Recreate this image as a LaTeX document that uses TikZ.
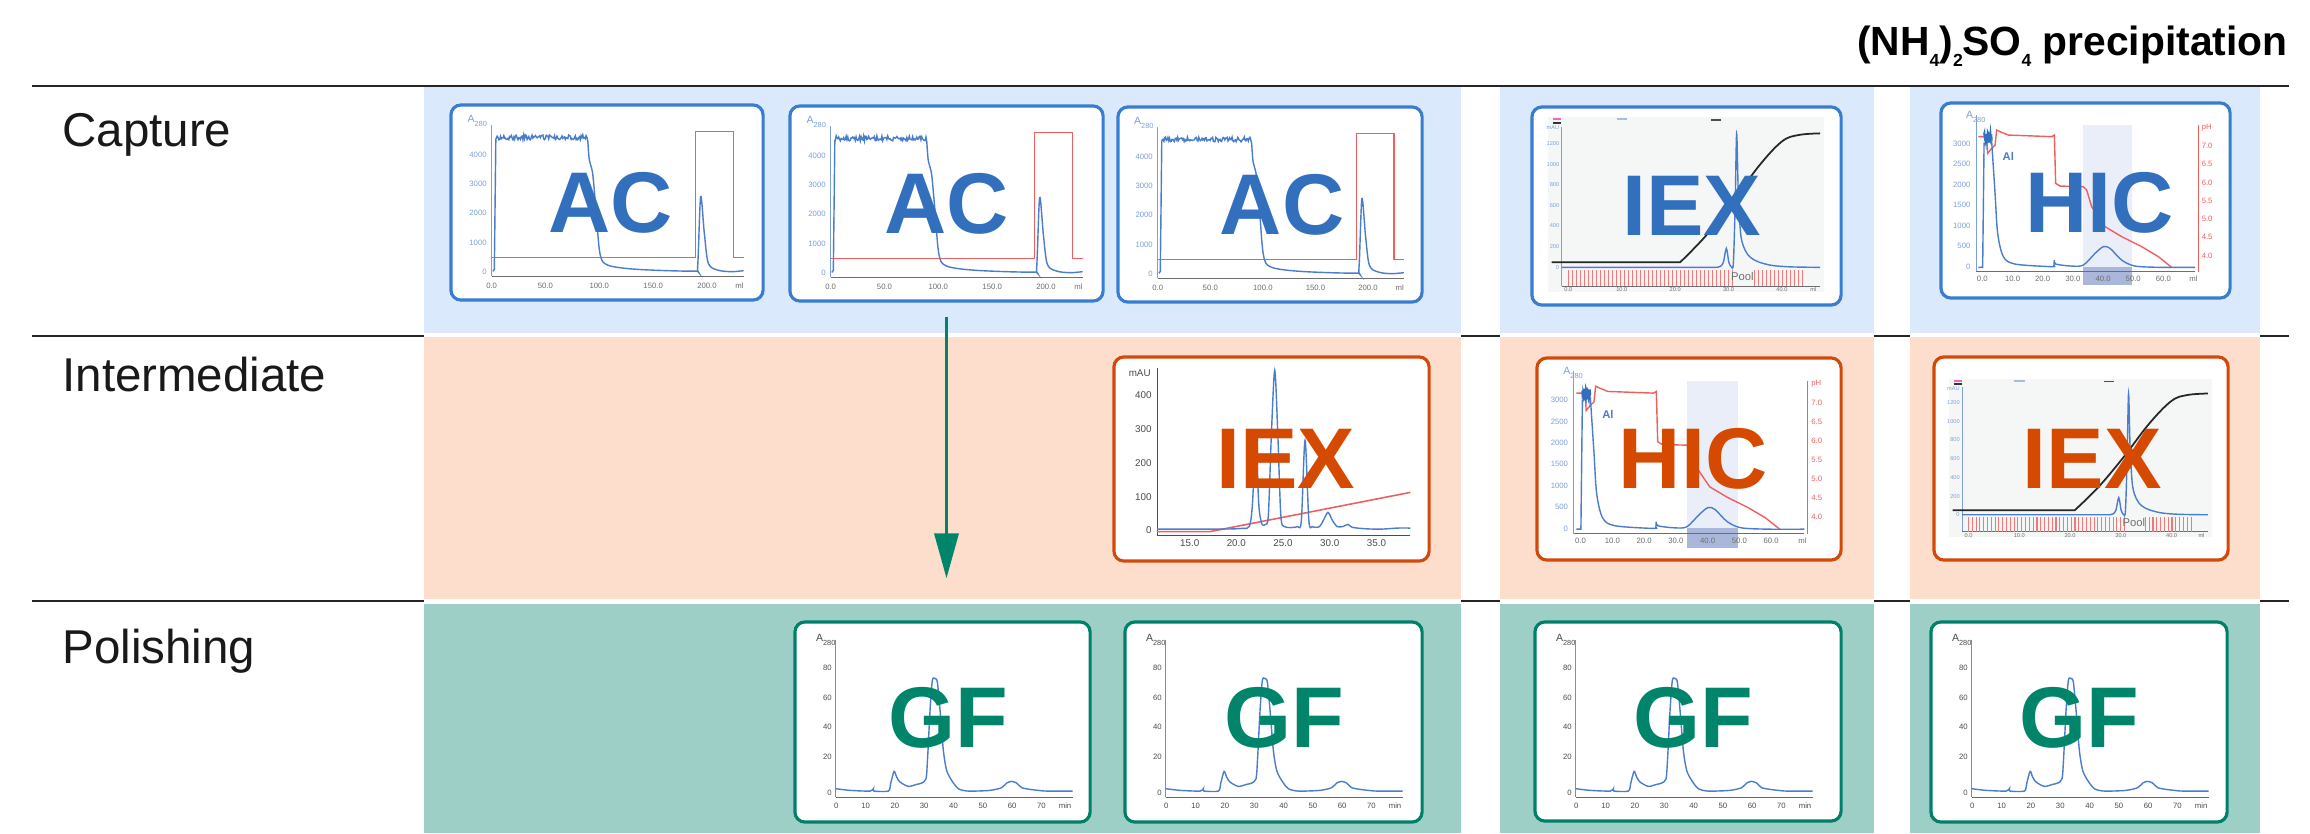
\documentclass[tikz,border=0pt]{standalone}
\usepackage{fontspec}
\setmainfont{Liberation Sans}
\usepackage{tikz}
\usetikzlibrary{arrows.meta, positioning, calc}

\definecolor{capblue}{RGB}{218,234,252}
\definecolor{intpeach}{RGB}{253,222,205}
\definecolor{polteal}{RGB}{157,207,198}
\definecolor{acedge}{RGB}{55,125,210}
\definecolor{acblue}{RGB}{50,112,190}
\definecolor{iexedge}{RGB}{210,74,10}
\definecolor{iexorange}{RGB}{213,74,0}
\definecolor{gfedge}{RGB}{0,128,104}
\definecolor{gfgreen}{RGB}{0,133,106}
\definecolor{trace}{RGB}{75,125,205}
\definecolor{tracelbl}{RGB}{125,160,215}
\definecolor{salt}{RGB}{240,95,95}
\definecolor{axisgray}{RGB}{110,110,110}
\definecolor{panelgray}{RGB}{245,247,247}
\definecolor{poolband}{RGB}{234,238,248}
\definecolor{poolbar}{RGB}{170,183,218}

\newcommand{\subs}[1]{\raisebox{-3.3pt}{\fontsize{5}{6}\selectfont #1}}

% affinity run, card coordinates in px
\newcommand{\acplot}[1]{%
  \draw[ax, tracelbl] (42.3,21.7) -- (42.3,172.7);
  \draw[ax, axisgray] (42.3,172.7) -- (294.3,172.7);
  \node[tick, text=tracelbl, anchor=base west, font=\fontsize{3}{3.5}\selectfont] (#1-a) at (17.5,19.5) {A\textsubscript{280}};
  \foreach \v/\lbl in {0/0,1/1000,2/2000,3/3000,4/4000}
    \node[tick, text=tracelbl, anchor=east] (#1-y\v) at (38,{168.3-29.33*\v}) {\lbl};
  \foreach \m/\lbl in {0/0.0,50/50.0,100/100.0,150/150.0,200/200.0}
    \node[tick, text=axisgray] (#1-x\m) at ({42.3+1.0767*\m},182.3) {\lbl};
  \node[tick, text=axisgray] (#1-ml) at (290,182.3) {ml};
  \draw[salt, line width=0.4pt] (42.3,154) -- (246,154) -- (246,28.3) -- (284.3,28.3) -- (284.3,154) -- (294.3,154);
  \draw[trc] (43.5,168) -- (45,166) -- (46.5,36) -- plot[domain=47:137.6, samples=110] (\x,{34+2.5*rand})
    -- plot[smooth, tension=0.5] coordinates {(138.5,38) (140,56.7) (143.3,70) (146.7,106.7) (150.6,150) (158.3,161.7) (188.3,166) (245,167.7) (248.3,163.3) (251.3,93.3) (255,130) (259,160) (268.3,166.7) (281.7,168.3) (294.3,167.3)};
}

% salt gradient run with fractions
\newcommand{\iexplot}[1]{%
  \fill[panelgray] (18,12) rectangle (294,187);
  \draw[magenta!60, line width=0.5pt] (22.3,14) -- (31,14);
  \draw[black!80, line width=0.5pt] (22.3,17.3) -- (31,17.3);
  \draw[trace!50, line width=0.5pt] (86.3,14) -- (97,14);
  \draw[black!70, line width=0.5pt] (180.7,14.7) -- (191,14.7);
  \draw[ax, tracelbl] (31.3,21.3) -- (31.3,180.7);
  \draw[ax, axisgray] (31.3,180.7) -- (289.7,180.7);
  \node[tick, text=tracelbl, anchor=east, font=\fontsize{1.6}{2}\selectfont] (#1-u) at (29.5,22.5) {mAU};
  \foreach \v in {0,200,...,1200}
    \node[tick, text=tracelbl, anchor=east, font=\fontsize{1.6}{2}\selectfont] (#1-y\v) at (29.5,{162-0.1033*\v}) {\v};
  \foreach \i/\lbl in {0/0.0,1/10.0,2/20.0,3/30.0,4/40.0}
    \node[tick, text=axisgray, font=\fontsize{1.6}{2}\selectfont] (#1-x\i) at ({38+53.4*\i},184.5) {\lbl};
  \node[tick, text=axisgray, font=\fontsize{1.6}{2}\selectfont] (#1-ml) at (283,184.5) {ml};
  \foreach \x in {38,42,...,204} \draw[salt!85, line width=0.3pt] (\x,164.7) -- (\x,180.7);
  \foreach \x in {224,228,...,272} \draw[salt!85, line width=0.3pt] (\x,164.7) -- (\x,180.7);
  \node[tick, text=axisgray, font=\fontsize{3.2}{4}\selectfont] (#1-pool) at (212,171) {Pool};
  \draw[black!85, line width=0.5pt] (21.3,157) -- (149.7,157)
    -- plot[smooth, tension=0.6] coordinates {(149.7,157) (174.7,131.3) (201.3,98) (228,61.3) (251.3,36.3) (268,29.7) (289.7,28)};
  \draw[trc] (31.3,162) -- (186,162)
    -- plot[smooth, tension=0.5] coordinates {(186,162) (190,161) (193,157) (196,143) (198.5,157) (201,161.5) (203,158) (204.8,100) (206.3,28) (208,90) (210.5,130) (214.7,144.7) (220,152) (228,156.5) (241.3,160) (260,161.5) (289.7,162)};
}

% hydrophobic run with pH
\newcommand{\hicplot}[1]{%
  \fill[poolband] (144,23.7) rectangle (192.3,165.3);
  \fill[poolbar] (144,165.3) rectangle (192.3,183.7);
  \draw[ax, tracelbl] (36.7,13.7) -- (36.7,170.3);
  \draw[ax, axisgray] (36.7,170.3) -- (255.7,170.3);
  \draw[ax, salt] (259,23.7) -- (259,170.3);
  \node[tick, text=tracelbl, anchor=base west, font=\fontsize{3}{3.5}\selectfont] (#1-a) at (26,17.5) {A\textsubscript{280}};
  \foreach \v in {0,500,...,3000}
    \node[tick, text=tracelbl, anchor=east] (#1-y\v) at (31.7,{165.3-0.0411*\v}) {\v};
  \node[tick, text=salt, anchor=west] (#1-ph) at (261.7,26) {pH};
  \foreach \i/\lbl in {1/7.0,2/6.5,3/6.0,4/5.5,5/5.0,6/4.5,7/4.0}
    \node[tick, text=salt, anchor=west] (#1-p\i) at (261.7,{26+18.33*\i}) {\lbl};
  \foreach \i/\lbl in {0/0.0,1/10.0,2/20.0,3/30.0,4/40.0,5/50.0,6/60.0}
    \node[tick, text=axisgray] (#1-x\i) at ({43+30.17*\i},177) {\lbl};
  \node[tick, text=axisgray] (#1-ml) at (254,177) {ml};
  \node[tick, text=trace, font=\fontsize{3.2}{4}\selectfont\bfseries] (#1-al) at (69,55.3) {Al};
  \draw[salt, line width=0.4pt] (39,35.3) -- (47.3,35.3) -- (48.3,52) -- (52.3,47) -- (55.7,43.7) -- (57.3,28.7) -- (60.7,30.3) -- (69,33.7) -- (112.3,35.3) -- (115,33.7) -- (116.3,82) -- (120.7,84.7) -- (144,85.3) -- (147.3,88.7) -- (152.3,105.3) -- (165.7,125.3) -- (182.3,135.3) -- (202.3,145.3) -- (219,155.3) -- (232.3,166);
  \draw[trc] (39,166) -- (43.3,166) -- (44.7,42) -- (52.3,40)
    -- plot[smooth, tension=0.5] coordinates {(52.3,40) (55.7,92) (58.3,132) (64,155.3) (75.7,162.7) (112.3,165.3) (114.5,164) (115,158.7) (116.3,162.7) (132.3,164.7) (144,163.7) (155.7,152) (164,145.3) (170.7,147) (182.3,158.7) (195.7,164.7) (222.3,166) (255.7,166)};
  \draw[acblue, line width=0.6pt] plot[domain=44.7:52.3, samples=25] (\x,{36+5*rand});
}

% cation exchange peaks
\newcommand{\iexgradplot}[1]{%
  \draw[ax, black!70] (44.7,13) -- (44.7,180.3) -- (298,180.3);
  \node[tick, text=black!70, anchor=east, font=\fontsize{2.8}{3.3}\selectfont] (#1-u) at (39,18) {mAU};
  \foreach \v in {0,100,...,400}
    \node[tick, text=black!70, anchor=east, font=\fontsize{2.8}{3.3}\selectfont] (#1-y\v) at (40,{175-0.337*\v}) {\v};
  \foreach \i/\lbl in {0/15.0,1/20.0,2/25.0,3/30.0,4/35.0}
    \node[tick, text=black!70, font=\fontsize{2.8}{3.3}\selectfont] (#1-x\i) at ({77.3+46.7*\i},188) {\lbl};
  \draw[salt, line width=0.45pt] (44.7,176.3) -- (97.3,176.3) -- (298,137);
  \draw[trc] plot[smooth, tension=0.5] coordinates {(44.7,173.7) (110,173.7) (130,173) (137,171) (140,150) (143.4,90) (146.5,150) (149,167) (150.7,169.7) (153,169) (156,160) (159,80) (162.4,15) (165.5,80) (168.5,160) (172.3,171.3) (185,171.3) (189,165) (192.7,85) (196.5,165) (200,171.3) (207,171.3) (211,165) (215.7,157) (220,165) (225,171.3) (231,171) (235.7,169) (240,172) (255,173.5) (270,173.7) (285,172.7) (298,172.7)};
}

% size exclusion run
\newcommand{\gfplot}[1]{%
  \draw[ax, black!45] (42.3,20) -- (42.3,176.7);
  \draw[ax, black!60] (42.3,176.7) -- (279.3,176.7);
  \node[tick, text=black!70, anchor=base west, font=\fontsize{3}{3.5}\selectfont] (#1-a) at (22,21.5) {A\textsubscript{280}};
  \foreach \v/\yy in {0/172.7,20/136.7,40/106.7,60/77.3,80/47.3}
    \node[tick, text=black!70, anchor=east] (#1-y\v) at (39,\yy) {\v};
  \foreach \i/\lbl in {0/0,1/10,2/20,3/30,4/40,5/50,6/60,7/70}
    \node[tick, text=black!70] (#1-x\i) at ({43+29.3*\i},185) {\lbl};
  \node[tick, text=black!70] (#1-min) at (271.7,185) {min};
  \draw[trc] plot[smooth, tension=0.45] coordinates {(42.3,168.3) (56.7,170) (76.7,170.7) (80,168.3) (80.7,170.7) (95,170.7) (97.3,163.3) (100.7,151) (103.3,156.7) (106.7,161.7) (115,166) (123.3,164) (128.3,162.7) (132.7,158.3) (134.3,136.7) (136.7,90) (139,60) (141.7,58.3) (144,61.7) (146.7,90) (150,130) (153.3,150) (158.3,160) (165,168.3) (175,170.7) (196.7,170) (208.3,167.3) (213.3,162.7) (218.3,161) (223.3,162.7) (228.3,167.3) (236.7,169) (245,170) (253.3,170.7) (279.3,170.7)};
}

\begin{document}
\begin{tikzpicture}[x=0.01cm, y=-0.01cm,
  card/.style={draw=#1, line width=0.9pt, rounded corners=0.1cm, fill=white, inner sep=0pt},
  bigtag/.style={text=#1, font=\fontsize{24.5}{26}\selectfont\bfseries, inner sep=0pt},
  rowlbl/.style={anchor=base west, font=\fontsize{13.5}{16}\selectfont, text=black!90},
  rule/.style={line width=0.7pt, black!85},
  tick/.style={font=\fontsize{2.2}{2.6}\selectfont, inner sep=0pt},
  trc/.style={trace, line width=0.4pt},
  ax/.style={line width=0.3pt},
  flow/.style={gfgreen, line width=1pt, -{Triangle[length=0.45cm, width=0.24cm]}}]
\useasboundingbox (0,0) rectangle (2310,833);
\pgfmathsetseed{7}

% Bands
\foreach \l/\r in {424/1461, 1500/1874, 1910/2260} {
  \fill[capblue] (\l,87) rectangle (\r,333);
  \fill[intpeach] (\l,337) rectangle (\r,599);
  \fill[polteal] (\l,604) rectangle (\r,833);
}
\draw[rule] (32,86) -- (2289,86);
\foreach \y in {336,601} {
  \draw[rule] (32,\y) -- (424,\y);
  \draw[rule] (1461,\y) -- (1500,\y);
  \draw[rule] (1874,\y) -- (1910,\y);
  \draw[rule] (2260,\y) -- (2289,\y);
}

% Steps
\node[anchor=base east, font=\fontsize{11.6}{14}\selectfont\bfseries] (title) at (2300,55) {(NH\subs{4})\subs{2}SO\subs{4} precipitation};
\node[rowlbl] (capture) at (50,146.7) {Capture};
\node[rowlbl] (intermediate) at (50,391.7) {Intermediate};
\node[rowlbl] (polishing) at (50,663) {Polishing};

% Capture
\node[card=acedge, minimum width=3.12cm, minimum height=1.95cm] (ac1) at (607,202.5) {};
\node[card=acedge, minimum width=3.13cm, minimum height=1.95cm] (ac2) at (946.5,203.5) {};
\node[card=acedge, minimum width=3.04cm, minimum height=1.95cm] (ac3) at (1270,204.5) {};
\node[card=acedge, minimum width=3.09cm, minimum height=1.98cm] (iexc) at (1686.5,206) {};
\node[card=acedge, minimum width=2.89cm, minimum height=1.95cm] (hicc) at (2085.5,200.5) {};
\begin{scope}[shift={(ac1.north west)}] \acplot{ac1} \end{scope}
\begin{scope}[shift={(ac2.north west)}] \acplot{ac2} \end{scope}
\begin{scope}[shift={(ac3.north west)}, xscale=0.977] \acplot{ac3} \end{scope}
\begin{scope}[shift={(iexc.north west)}] \iexplot{iexc} \end{scope}
\begin{scope}[shift={(hicc.north west)}] \hicplot{hicc} \end{scope}

% Intermediate
\node[card=iexedge, minimum width=3.15cm, minimum height=2.04cm] (iexi) at (1271.5,459) {};
\node[card=iexedge, minimum width=3.04cm, minimum height=2.02cm] (hici) at (1689,459) {};
\node[card=iexedge, minimum width=2.94cm, minimum height=2.03cm] (iexp) at (2081,458.5) {};
\begin{scope}[shift={(iexi.north west)}] \iexgradplot{iexi} \end{scope}
\begin{scope}[shift={(hici.north west)}, xscale=1.052, yscale=1.041] \hicplot{hici} \end{scope}
\begin{scope}[shift={($(iexp.north west)+(0,12.8)$)}, xscale=0.951, yscale=0.905] \iexplot{iexp} \end{scope}

% Polishing
\node[card=gfedge, minimum width=2.95cm, minimum height=2cm] (gf1) at (942.5,722) {};
\node[card=gfedge, minimum width=2.97cm, minimum height=2cm] (gf2) at (1273.5,722) {};
\node[card=gfedge, minimum width=3.06cm, minimum height=1.99cm] (gf3) at (1688,721.5) {};
\node[card=gfedge, minimum width=2.96cm, minimum height=2cm] (gf4) at (2079,722) {};
\foreach \g in {gf1,gf2,gf3,gf4} {
  \begin{scope}[shift={(\g.north west)}] \gfplot{\g} \end{scope}
}

% Technique tags
\node[bigtag=acblue] (ac1t) at ($(ac1.center)+(4,0)$) {AC};
\node[bigtag=acblue] (ac2t) at (ac2.center) {AC};
\node[bigtag=acblue] (ac3t) at ($(ac3.center)+(12,0)$) {AC};
\node[bigtag=acblue] (iexct) at ($(iexc.center)+(5,0)$) {IEX};
\node[bigtag=acblue] (hicct) at ($(hicc.center)+(14,2)$) {HIC};
\node[bigtag=iexorange] (iexit) at ($(iexi.center)+(14,0)$) {IEX};
\node[bigtag=iexorange] (hicit) at ($(hici.center)+(4,0)$) {HIC};
\node[bigtag=iexorange] (iexpt) at ($(iexp.center)+(11,0)$) {IEX};
\node[bigtag=gfgreen] (gf1t) at ($(gf1.center)+(6,-4)$) {GF};
\node[bigtag=gfgreen] (gf2t) at ($(gf2.center)+(11,-4)$) {GF};
\node[bigtag=gfgreen] (gf3t) at ($(gf3.center)+(5,-4)$) {GF};
\node[bigtag=gfgreen] (gf4t) at ($(gf4.center)+(0,-4)$) {GF};

% Skip intermediate step
\draw[flow] ($(ac2.south)+(0,14)$) -- ($(ac2.south |- gf1.north)+(0,-42)$);
\end{tikzpicture}
\end{document}
